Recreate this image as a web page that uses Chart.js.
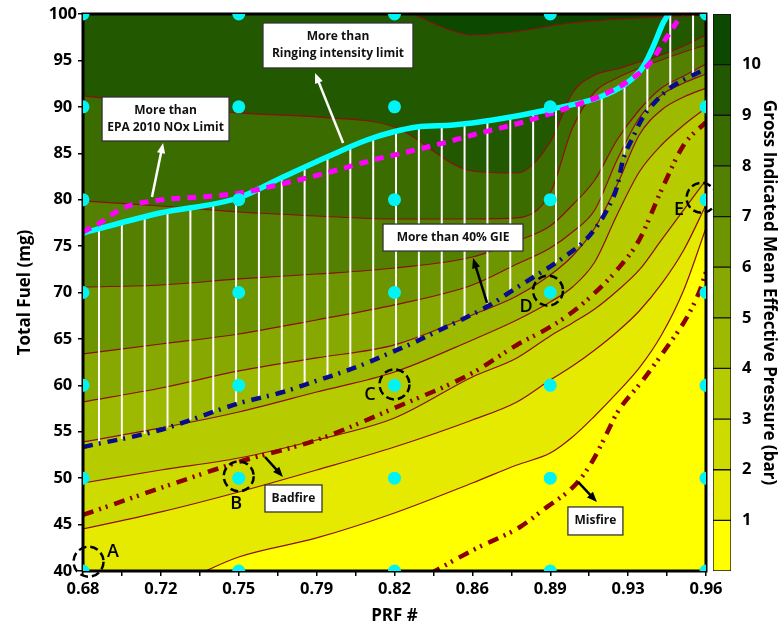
<!DOCTYPE html>
<html>
<head>
<meta charset="utf-8">
<script src="https://cdn.jsdelivr.net/npm/chart.js@4.4.0/dist/chart.umd.min.js"></script>
<style>
  html, body { margin: 0; padding: 0; background: #fff; }
  #wrap { position: relative; width: 779px; height: 626px; }
  #main { position: absolute; left: 0; top: 0; }
  #bar { position: absolute; left: 706px; top: 0; }
</style>
</head>
<body>
<div id="wrap">
  <canvas id="main" width="779" height="626"></canvas>
  <canvas id="bar" width="73" height="626"></canvas>
</div>
<script>
// --- DATA ---
const prfCols = [0.68, 0.715, 0.75, 0.785, 0.82, 0.855, 0.875, 0.89, 0.90, 0.91, 0.92, 0.93, 0.94, 0.95, 0.96];

// total fuel (mg) where GIMEP reaches 1..9 bar, at each prfCols value
const contour1 = [36.34, 37.95, 41.51, 43.56, 46.25, 49.48, 51.42, 52.71, 54.44, 56.70, 59.18, 61.87, 65.42, 70.27, 76.95];
const contour2 = [44.53, 46.36, 48.51, 50.88, 53.36, 56.27, 58.21, 60.58, 62.08, 63.81, 65.75, 68.01, 70.92, 74.58, 79.43];
const contour3 = [49.48, 50.88, 52.17, 54.11, 56.48, 60.90, 62.95, 65.32, 66.72, 68.22, 70.16, 72.43, 75.66, 78.89, 82.12];
const contour4 = [53.90, 55.41, 57.13, 59.28, 61.44, 64.89, 67.04, 68.98, 70.59, 73.29, 78.35, 82.98, 85.89, 88.04, 89.88];
const contour5 = [58.21, 59.71, 61.55, 62.95, 64.35, 67.58, 69.62, 71.89, 73.93, 76.95, 81.58, 86.97, 89.66, 91.06, 92.03];
const contour6 = [63.38, 64.45, 65.53, 67.04, 68.66, 70.81, 73.07, 74.80, 76.52, 78.89, 84.27, 88.80, 91.28, 92.57, 93.54];
const contour7 = [70.59, 70.81, 71.46, 71.99, 72.64, 73.82, 75.55, 77.17, 79.43, 82.12, 86.43, 89.66, 92.03, 93.32, 94.62];
const contour8 = [79.86, 79.32, 78.67, 78.24, 77.92, 77.92, 78.03, 80.72, 87.72, 91.60, 93.11, 94.19, 95.05, 95.91, 96.66];
const contour9 = [91.17, 90.31, 89.34, 88.91, 87.83, 83.09, 82.87, 86.21, 91.49, 93.43, 94.08, 94.83, 95.59, 96.55, 97.74];
// the 10 bar line only shows near the top
const contour10Prf = [0.68, 0.78, 0.8283, 0.836, 0.845, 0.854, 0.8733, 0.8989, 0.929, 0.96];
const contour10 = [106, 104, 100, 99.14, 98.28, 97.74, 98.06, 99.03, 99.57, 99.9];

// limit lines
const ringPrf = [0.68, 0.7146, 0.7497, 0.7699, 0.7897, 0.8076, 0.8193, 0.8301, 0.8463, 0.8643, 0.8885, 0.9124, 0.9245, 0.9317, 0.9362, 0.9407, 0.9429, 0.9447, 0.95, 0.96];
const ringFuel = [76.41, 78.56, 80.18, 82.44, 84.60, 86.43, 87.29, 87.83, 88.04, 88.58, 89.66, 91.06, 92.57, 94.29, 96.45, 99.03, 100, 101.5, 106, 108];
const noxPrf = [0.68, 0.6876, 0.698, 0.7146, 0.7326, 0.7506, 0.773, 0.791, 0.8103, 0.8256, 0.8436, 0.8584, 0.8764, 0.8989, 0.9155, 0.9258, 0.9348, 0.9407, 0.9483, 0.951];
const noxFuel = [76.52, 77.49, 79.10, 79.96, 80.29, 80.72, 81.90, 82.98, 84.27, 85.13, 86.21, 87.18, 88.26, 89.98, 91.49, 92.89, 94.72, 96.88, 99.68, 100.75];
const giePrf = [0.68, 0.7146, 0.7506, 0.7699, 0.7834, 0.7955, 0.8076, 0.818, 0.8283, 0.8404, 0.8526, 0.8629, 0.8733, 0.884, 0.8944, 0.9079, 0.9155, 0.92, 0.9227, 0.9272, 0.9317, 0.938, 0.9438, 0.9497, 0.96];
const gieFuel = [53.36, 55.19, 58.10, 59.28, 60.36, 61.33, 62.41, 63.49, 64.56, 65.96, 67.36, 68.65, 70.27, 71.89, 73.50, 76.19, 78.89, 81.36, 84.27, 86.75, 88.90, 90.74, 92.03, 92.89, 94.10];
const badfirePrf = [0.68, 0.715, 0.75, 0.785, 0.82, 0.855, 0.875, 0.89, 0.90, 0.91, 0.92, 0.93, 0.94, 0.95, 0.96];
const badfireFuel = [46.04, 48.95, 51.74, 54.11, 57.56, 61.33, 64.35, 66.29, 67.90, 69.95, 72.43, 75.66, 81.04, 85.89, 88.37];
const misfirePrf = [0.836, 0.8391, 0.8553, 0.8764, 0.8867, 0.902, 0.9092, 0.9155, 0.92, 0.9317, 0.9425, 0.9515, 0.9573, 0.96];
const misfireFuel = [39.68, 40.11, 42.26, 44.74, 46.57, 49.48, 51.93, 54.87, 57.02, 60.58, 64.13, 67.36, 70.27, 72.21];

// test points
const testPrf = [0.68, 0.75, 0.82, 0.89, 0.96];
const testFuel = [40, 50, 60, 70, 80, 90, 100];

// marked cases A-E
const caseNames = ['A', 'B', 'C', 'D', 'E'];
const casePrf = [0.6825, 0.75, 0.82, 0.889, 0.958];
const caseFuel = [41.0, 50.2, 60.1, 70.2, 80.2];
const caseLabelPrf = [0.6935, 0.7488, 0.809, 0.8791, 0.9479];
const caseLabelFuel = [42.05, 47.22, 58.96, 68.44, 78.89];

// notes
const noteText = [['More than', 'EPA 2010 NOx Limit'], ['More than', 'Ringing intensity limit'], ['More than 40% GIE'], ['Badfire'], ['Misfire']];
const notePrf = [0.7171, 0.7946, 0.8463, 0.7746, 0.9103];
const noteFuel = [88.69, 96.61, 75.92, 47.81, 45.39];
const arrowFrom = [[0.711, 80.29], [0.7969, 86.11], [0.8616, 68.87], [0.7618, 52.28], [0.9025, 49.59]];
const arrowTo = [[0.716, 86.11], [0.7843, 93.65], [0.8553, 73.72], [0.7699, 50.13], [0.911, 47.43]];

// axes
const xTickVals = [0.68, 0.715, 0.75, 0.785, 0.82, 0.855, 0.89, 0.925, 0.96];
const xTickText = ['0.68', '0.72', '0.75', '0.79', '0.82', '0.86', '0.89', '0.93', '0.96'];
const yTicks = [40, 45, 50, 55, 60, 65, 70, 75, 80, 85, 90, 95, 100];
const cbLevels = [0, 1, 2, 3, 4, 5, 6, 7, 8, 9, 10, 11];
const cbTicks = [1, 2, 3, 4, 5, 6, 7, 8, 9, 10];

// --- STYLE ---
const bandColors = ['#FFFF00', '#E5EA00', '#CDDB00', '#B6CC00', '#9EBA00', '#86A800', '#6D9500', '#538000', '#3A6C00', '#225800', '#0C4800'];
const contourColor = '#8B1010';
const noteBox = [[127, 44], [150, 45], [140, 27], [57, 27], [55, 28]];
const arrowColors = ['#ffffff', '#ffffff', '#000000', '#000000', '#000000'];
const tickFont = { family: "'Open Sans', sans-serif", size: 16.5, weight: 'bold' };
const titleFont = { family: "'Open Sans', sans-serif", size: 17, weight: 'bold' };

const pairs = (xs, ys) => xs.map((x, i) => ({ x: x, y: ys[i] }));

const mainCanvas = document.getElementById('main');
const mainCtx = mainCanvas.getContext('2d');

// white vertical hatching between the ringing line and the 40% GIE line
function hatchPattern() {
    const tile = document.createElement('canvas');
    tile.width = 23; tile.height = 8;
    const g = tile.getContext('2d');
    g.fillStyle = '#ffffff';
    g.fillRect(6, 0, 2, 8);
    const p = mainCtx.createPattern(tile, 'repeat');
    p.setTransform(new DOMMatrix([22.85 / 23, 0, 0, 1, 92, 0]));
    return p;
}

const datasets = [];
const contours = [contour1, contour2, contour3, contour4, contour5, contour6, contour7, contour8, contour9];
contours.forEach((fuel, k) => {
    datasets.push({
        data: pairs(prfCols, fuel),
        fill: 'end',
        backgroundColor: bandColors[k + 1],
        borderColor: contourColor,
        borderWidth: 1.2,
        pointRadius: 0,
        cubicInterpolationMode: 'monotone',
        order: 100 - k
    });
});
datasets.push({
    data: pairs(contour10Prf, contour10),
    fill: 'end',
    backgroundColor: bandColors[10],
    borderColor: contourColor,
    borderWidth: 1.2,
    pointRadius: 0,
    cubicInterpolationMode: 'monotone',
    order: 90
});

const gieIndex = datasets.length;
datasets.push({
    data: pairs(giePrf, gieFuel),
    borderColor: '#0A0A8C',
    borderWidth: 4.5,
    borderDash: [10, 6, 2, 7],
    pointRadius: 0,
    fill: false,
    cubicInterpolationMode: 'monotone',
    order: 30
});
datasets.push({
    data: pairs(ringPrf, ringFuel),
    borderColor: '#00FFFF',
    borderWidth: 5.5,
    pointRadius: 0,
    fill: { target: gieIndex, above: hatchPattern(), below: 'rgba(0,0,0,0)' },
    cubicInterpolationMode: 'monotone',
    order: 40
});
datasets.push({
    data: pairs(noxPrf, noxFuel),
    borderColor: '#FF00FF',
    borderWidth: 5,
    borderDash: [9, 7],
    pointRadius: 0,
    fill: false,
    cubicInterpolationMode: 'monotone',
    order: 35
});
datasets.push({
    data: pairs(badfirePrf, badfireFuel),
    borderColor: '#8B0000',
    borderWidth: 4.5,
    borderDash: [11, 6, 2, 5, 2, 7],
    pointRadius: 0,
    fill: false,
    cubicInterpolationMode: 'monotone',
    order: 30
});
datasets.push({
    data: pairs(misfirePrf, misfireFuel),
    borderColor: '#8B0000',
    borderWidth: 4.5,
    borderDash: [11, 6, 2, 5, 2, 7],
    pointRadius: 0,
    fill: false,
    cubicInterpolationMode: 'monotone',
    order: 30
});
const testPoints = [];
testPrf.forEach(p => testFuel.forEach(f => testPoints.push({ x: p, y: f })));
const dotsIndex = datasets.length;
datasets.push({
    type: 'scatter',
    data: testPoints,
    pointRadius: 6.5,
    pointBackgroundColor: '#00F4F4',
    pointBorderWidth: 0,
    showLine: false,
    order: 5
});

function drawArrow(ctx, x0, y0, x1, y1, color) {
    const ang = Math.atan2(y1 - y0, x1 - x0);
    const head = 11;
    ctx.strokeStyle = color;
    ctx.fillStyle = color;
    ctx.lineWidth = 2.5;
    ctx.setLineDash([]);
    ctx.beginPath();
    ctx.moveTo(x0, y0);
    ctx.lineTo(x1 - Math.cos(ang) * head * 0.8, y1 - Math.sin(ang) * head * 0.8);
    ctx.stroke();
    ctx.beginPath();
    ctx.moveTo(x1, y1);
    ctx.lineTo(x1 - head * Math.cos(ang - 0.38), y1 - head * Math.sin(ang - 0.38));
    ctx.lineTo(x1 - head * Math.cos(ang + 0.38), y1 - head * Math.sin(ang + 0.38));
    ctx.closePath();
    ctx.fill();
}

const decor = {
    id: 'decor',
    beforeDatasetsDraw(chart) {
        const { ctx, chartArea: a } = chart;
        ctx.save();
        ctx.fillStyle = bandColors[0];
        ctx.fillRect(a.left, a.top, a.right - a.left, a.bottom - a.top);
        ctx.restore();
    },
    beforeDatasetDraw(chart, args) {
        // frame goes in just before the test points, so the points sit on the left axis
        if (args.index !== dotsIndex) return;
        const { ctx, chartArea: a } = chart;
        ctx.strokeStyle = '#000';
        ctx.lineWidth = 3;
        ctx.strokeRect(a.left, a.top, a.right - a.left, a.bottom - a.top);
        // points are cut at the top, right and bottom edges but not on the left
        ctx.save();
        ctx.beginPath();
        ctx.rect(a.left - 12, a.top, a.right - a.left + 12, a.bottom - a.top);
        ctx.clip();
    },
    afterDatasetDraw(chart, args) {
        if (args.index === dotsIndex) chart.ctx.restore();
    },
    afterDatasetsDraw(chart) {
        const { ctx, scales: { x, y } } = chart;
        ctx.save();

        // arrows
        arrowFrom.forEach((f, i) => {
            drawArrow(ctx, x.getPixelForValue(f[0]), y.getPixelForValue(f[1]),
                x.getPixelForValue(arrowTo[i][0]), y.getPixelForValue(arrowTo[i][1]), arrowColors[i]);
        });

        // note boxes
        ctx.font = "bold 12px 'Open Sans', sans-serif";
        ctx.textAlign = 'center';
        ctx.textBaseline = 'middle';
        noteText.forEach((lines, i) => {
            const cx = x.getPixelForValue(notePrf[i]);
            const cy = y.getPixelForValue(noteFuel[i]);
            const w = noteBox[i][0], h = noteBox[i][1];
            ctx.fillStyle = '#ffffff';
            ctx.fillRect(cx - w / 2, cy - h / 2, w, h);
            ctx.strokeStyle = '#333';
            ctx.lineWidth = 1.3;
            ctx.strokeRect(cx - w / 2, cy - h / 2, w, h);
            ctx.fillStyle = '#111';
            lines.forEach((t, j) => {
                ctx.fillText(t, cx, cy + (j - (lines.length - 1) / 2) * 17);
            });
        });

        // dashed circles and letters
        ctx.strokeStyle = '#000';
        ctx.lineWidth = 2.5;
        ctx.setLineDash([8, 4]);
        caseNames.forEach((n, i) => {
            ctx.beginPath();
            ctx.arc(x.getPixelForValue(casePrf[i]), y.getPixelForValue(caseFuel[i]), 15, 0, Math.PI * 2);
            ctx.stroke();
        });
        ctx.setLineDash([]);
        ctx.fillStyle = '#000';
        ctx.font = "600 18px 'Open Sans', sans-serif";
        caseNames.forEach((n, i) => {
            ctx.fillText(n, x.getPixelForValue(caseLabelPrf[i]), y.getPixelForValue(caseLabelFuel[i]));
        });
        ctx.restore();
    }
};

const xMinor = xTickVals.slice(1).map((v, i) => (v + xTickVals[i]) / 2);

new Chart(mainCtx, {
    type: 'line',
    data: { datasets: datasets },
    options: {
        responsive: false,
        animation: false,
        events: [],
        layout: { padding: { left: 0, top: 14, right: 73, bottom: 0 } },
        plugins: { legend: { display: false }, tooltip: { enabled: false } },
        scales: {
            x: {
                type: 'linear',
                min: 0.68,
                max: 0.96,
                afterFit(s) { s.height = 55; },
                afterBuildTicks(s) {
                    s.ticks = xTickVals.concat(xMinor).sort((a, b) => a - b).map(v => ({ value: v }));
                },
                ticks: {
                    autoSkip: false,
                    maxRotation: 0,
                    padding: 3,
                    color: '#000',
                    font: tickFont,
                    callback(v) {
                        const i = xTickVals.findIndex(t => Math.abs(t - v) < 1e-6);
                        return i < 0 ? '' : xTickText[i];
                    }
                },
                grid: { drawOnChartArea: false, drawTicks: true, tickLength: 5, color: '#000', lineWidth: 1.5 },
                border: { display: false },
                title: { display: true, text: 'PRF #', color: '#000', font: titleFont, padding: { top: 2, bottom: 0 } }
            },
            y: {
                min: 40,
                max: 100,
                afterFit(s) { s.width = 83; },
                afterBuildTicks(s) { s.ticks = yTicks.map(v => ({ value: v })); },
                ticks: { crossAlign: 'center', padding: 1, color: '#000', font: tickFont },
                grid: { drawOnChartArea: false, drawTicks: true, tickLength: 5, color: '#000', lineWidth: 1.5 },
                border: { display: false },
                title: { display: true, text: 'Total Fuel (mg)', color: '#000', font: titleFont, padding: { top: 15, bottom: 0 } }
            }
        }
    },
    plugins: [decor]
});

// --- COLOUR BAR ---
new Chart(document.getElementById('bar'), {
    type: 'bar',
    data: {
        labels: [''],
        datasets: cbLevels.slice(1).map((top, i) => ({
            data: [top - cbLevels[i]],
            backgroundColor: bandColors[i],
            borderColor: '#111',
            borderWidth: 1,
            borderSkipped: false,
            barPercentage: 1,
            categoryPercentage: 1
        }))
    },
    options: {
        responsive: false,
        animation: false,
        events: [],
        layout: { padding: { left: 7, top: 14, right: 0, bottom: 55 } },
        plugins: { legend: { display: false }, tooltip: { enabled: false } },
        scales: {
            x: { display: false, stacked: true },
            y: {
                stacked: true,
                position: 'right',
                min: 0,
                max: 11,
                afterFit(s) { s.width = 48; s.paddingTop = 0; s.paddingBottom = 0; },
                afterBuildTicks(s) { s.ticks = cbTicks.map(v => ({ value: v })); },
                ticks: { padding: 11, color: '#000', font: tickFont },
                grid: { display: false, drawTicks: false },
                border: { display: false },
                title: { display: true, text: 'Gross Indicated Mean Effective Pressure (bar)', color: '#000', font: titleFont, padding: 0 }
            }
        }
    }
});
</script>
</body>
</html>
